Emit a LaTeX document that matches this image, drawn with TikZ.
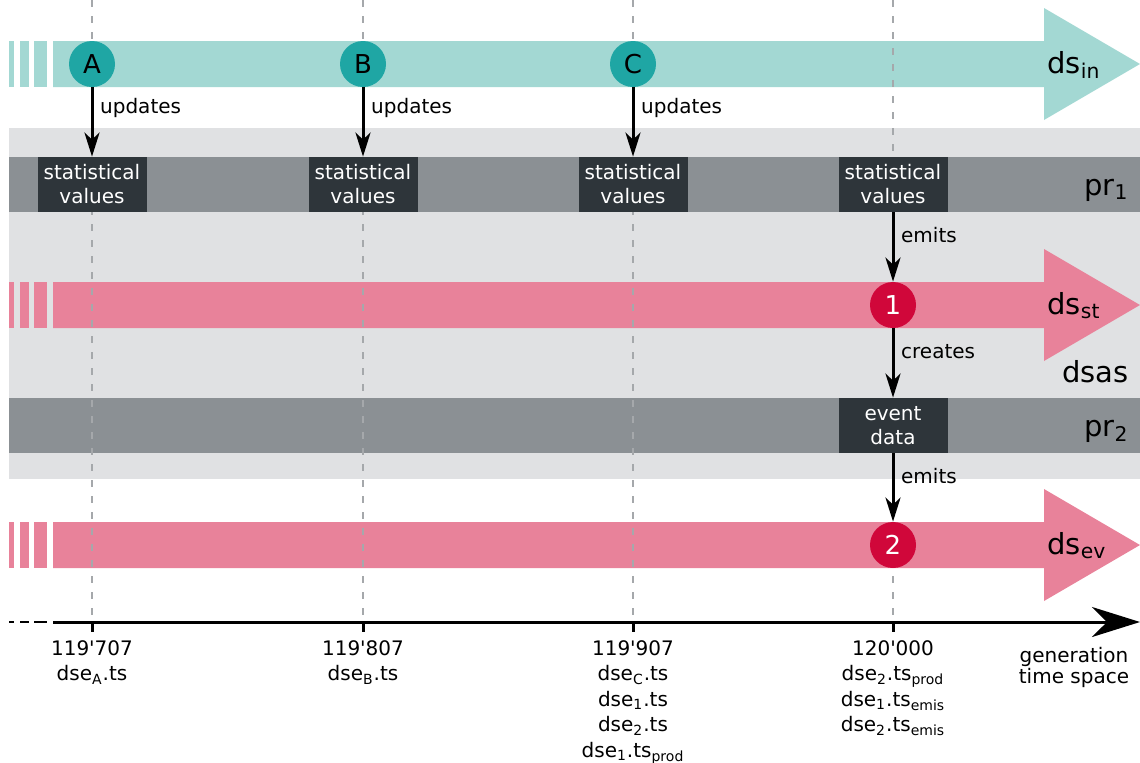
\documentclass[tikz,border=0pt]{standalone}
\usepackage{fontspec}
\setmainfont{DejaVu Sans}
\usepackage{xcolor}
\usetikzlibrary{arrows.meta}

\definecolor{tealband}{HTML}{A3D8D3}
\definecolor{tealdot}{HTML}{1FA6A4}
\definecolor{pinkband}{HTML}{E8829A}
\definecolor{reddot}{HTML}{D0073A}
\definecolor{lightbg}{HTML}{E0E1E3}
\definecolor{prband}{HTML}{8B9094}
\definecolor{darkbox}{HTML}{2E353A}
\definecolor{guidegray}{HTML}{A5A8AB}

\begin{document}
\begin{tikzpicture}[x=0.5pt, y=-0.5pt,
        every node/.style={font=\fontsize{10}{12.75}\selectfont},
        big/.style={font=\fontsize{14.5}{17}\selectfont, inner sep=0pt},
        guide/.style={guidegray, line width=0.75pt, dash pattern=on 3.5pt off 4.5pt},
        conn/.style={-{Stealth[length=12pt,width=7.5pt,inset=3.5pt]}, line width=1.5pt},
        axisline/.style={-{Stealth[length=24pt,width=15pt,inset=7.5pt]}, line width=1.5pt},
        dot/.style={circle, minimum size=23pt, inner sep=0pt, font=\fontsize{13}{15}\selectfont},
        indot/.style={dot, fill=tealdot},
        outdot/.style={dot, fill=reddot, text=white},
        valbox/.style={fill=darkbox, text=white, minimum width=54.5pt, minimum height=27.5pt,
                       inner sep=0pt, align=center, font=\fontsize{10}{12}\selectfont},
        tslabel/.style={anchor=north, inner sep=0pt, align=center}
    ]
    \useasboundingbox (0,0) rectangle (1140,762);

    \fill[lightbg] (9,128) rectangle (1140,479);
    \fill[prband] (9,157) rectangle (1140,212);
    \fill[prband] (9,398) rectangle (1140,453);

    \foreach \y/\c in {64/tealband, 305/pinkband, 545/pinkband} {
        \fill[\c] (9,\y-23) rectangle (14,\y+23);
        \fill[\c] (20,\y-23) rectangle (29,\y+23);
        \fill[\c] (34,\y-23) rectangle (47,\y+23);
        \fill[\c] (53,\y-23) -- (1044,\y-23) -- (1044,\y-56) -- (1140,\y)
            -- (1044,\y+56) -- (1044,\y+23) -- (53,\y+23) -- cycle;
    }

    \foreach \x in {92,363,633,893} {
        \draw[guide] (\x,0) -- (\x,622);
        \draw[line width=1.5pt] (\x,622) -- (\x,632);
    }

    \draw[line width=1.4pt] (9,622) -- (14,622) (20,622) -- (29,622) (34,622) -- (47,622);
    \draw[axisline] (53,622) -- (1140,622);

    \node[big, anchor=base west] (dsin) at (1047,73) {ds\textsubscript{in}};
    \node[big, anchor=base west] (dsst) at (1047,314) {ds\textsubscript{st}};
    \node[big, anchor=base west] (dsev) at (1047,554) {ds\textsubscript{ev}};
    \node[big, anchor=base east] (pr1) at (1129,195) {pr\textsubscript{1}};
    \node[big, anchor=base east] (pr2) at (1129,436) {pr\textsubscript{2}};
    \node[big, anchor=base east] (dsas) at (1129,382) {dsas};

    \node[indot] (A) at (92,64) {A};
    \node[indot] (B) at (363,64) {B};
    \node[indot] (C) at (633,64) {C};

    \node[valbox] (sv1) at (92,184.5) {statistical\\values};
    \node[valbox] (sv2) at (363,184.5) {statistical\\values};
    \node[valbox] (sv3) at (633,184.5) {statistical\\values};
    \node[valbox] (sv4) at (893,184.5) {statistical\\values};

    \node[outdot] (e1) at (893,305) {1};
    \node[valbox] (ed) at (893,425.5) {event\\data};
    \node[outdot] (e2) at (893,545) {2};

    \draw[conn] (A) -- (sv1) node[pos=0.3, right] {updates};
    \draw[conn] (B) -- (sv2) node[pos=0.3, right] {updates};
    \draw[conn] (C) -- (sv3) node[pos=0.3, right] {updates};
    \draw[conn] (sv4) -- (e1) node[pos=0.33, right] {emits};
    \draw[conn] (e1) -- (ed) node[pos=0.33, right] {creates};
    \draw[conn] (ed) -- (e2) node[pos=0.33, right] {emits};

    \node[tslabel] (ts1) at (92,640) {119\textquotesingle 707\\dse\textsubscript{A}.ts};
    \node[tslabel] (ts2) at (363,640) {119\textquotesingle 807\\dse\textsubscript{B}.ts};
    \node[tslabel] (ts3) at (633,640) {119\textquotesingle 907\\dse\textsubscript{C}.ts\\dse\textsubscript{1}.ts\\dse\textsubscript{2}.ts\\dse\textsubscript{1}.ts\textsubscript{prod}};
    \node[tslabel] (ts4) at (893,640) {120\textquotesingle 000\\dse\textsubscript{2}.ts\textsubscript{prod}\\dse\textsubscript{1}.ts\textsubscript{emis}\\dse\textsubscript{2}.ts\textsubscript{emis}};
    \node[tslabel, font=\fontsize{10}{10.5}\selectfont] (gen) at (1074,647) {generation\\time space};
\end{tikzpicture}
\end{document}
